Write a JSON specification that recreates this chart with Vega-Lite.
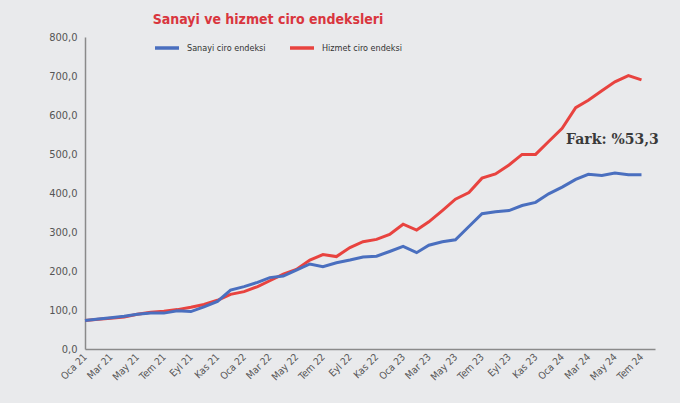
{
  "$schema": "https://vega.github.io/schema/vega-lite/v6.json",
  "width": 570,
  "height": 312,
  "autosize": {"type": "none"},
  "padding": {"left": 85, "top": 37, "right": 25, "bottom": 54},
  "background": "#e9eaec",
  "config": {"view": {"stroke": null}, "font": "DejaVu Sans Condensed, Roboto"},
  "title": {
    "text": "Sanayi ve hizmet ciro endeksleri",
    "anchor": "start",
    "dx": 104,
    "offset": 4,
    "font": "DejaVu Sans Condensed, Roboto",
    "fontSize": 14,
    "fontWeight": "bold",
    "color": "#d9363e"
  },
  "datasets": {
    "endeks": [
      {"tarih": "2021-01-01", "Sanayi ciro endeksi": 73, "Hizmet ciro endeksi": 73},
      {"tarih": "2021-02-01", "Sanayi ciro endeksi": 77, "Hizmet ciro endeksi": 76},
      {"tarih": "2021-03-01", "Sanayi ciro endeksi": 80, "Hizmet ciro endeksi": 79},
      {"tarih": "2021-04-01", "Sanayi ciro endeksi": 84, "Hizmet ciro endeksi": 82},
      {"tarih": "2021-05-01", "Sanayi ciro endeksi": 89, "Hizmet ciro endeksi": 89},
      {"tarih": "2021-06-01", "Sanayi ciro endeksi": 92, "Hizmet ciro endeksi": 94},
      {"tarih": "2021-07-01", "Sanayi ciro endeksi": 92, "Hizmet ciro endeksi": 97},
      {"tarih": "2021-08-01", "Sanayi ciro endeksi": 98, "Hizmet ciro endeksi": 101},
      {"tarih": "2021-09-01", "Sanayi ciro endeksi": 96, "Hizmet ciro endeksi": 107},
      {"tarih": "2021-10-01", "Sanayi ciro endeksi": 108, "Hizmet ciro endeksi": 114},
      {"tarih": "2021-11-01", "Sanayi ciro endeksi": 122, "Hizmet ciro endeksi": 125},
      {"tarih": "2021-12-01", "Sanayi ciro endeksi": 151, "Hizmet ciro endeksi": 140},
      {"tarih": "2022-01-01", "Sanayi ciro endeksi": 160, "Hizmet ciro endeksi": 147},
      {"tarih": "2022-02-01", "Sanayi ciro endeksi": 171, "Hizmet ciro endeksi": 160},
      {"tarih": "2022-03-01", "Sanayi ciro endeksi": 183, "Hizmet ciro endeksi": 175},
      {"tarih": "2022-04-01", "Sanayi ciro endeksi": 187, "Hizmet ciro endeksi": 192},
      {"tarih": "2022-05-01", "Sanayi ciro endeksi": 202, "Hizmet ciro endeksi": 204},
      {"tarih": "2022-06-01", "Sanayi ciro endeksi": 218, "Hizmet ciro endeksi": 228},
      {"tarih": "2022-07-01", "Sanayi ciro endeksi": 211, "Hizmet ciro endeksi": 242},
      {"tarih": "2022-08-01", "Sanayi ciro endeksi": 221, "Hizmet ciro endeksi": 237},
      {"tarih": "2022-09-01", "Sanayi ciro endeksi": 228, "Hizmet ciro endeksi": 260},
      {"tarih": "2022-10-01", "Sanayi ciro endeksi": 236, "Hizmet ciro endeksi": 275},
      {"tarih": "2022-11-01", "Sanayi ciro endeksi": 238, "Hizmet ciro endeksi": 281},
      {"tarih": "2022-12-01", "Sanayi ciro endeksi": 250, "Hizmet ciro endeksi": 294},
      {"tarih": "2023-01-01", "Sanayi ciro endeksi": 263, "Hizmet ciro endeksi": 320},
      {"tarih": "2023-02-01", "Sanayi ciro endeksi": 247, "Hizmet ciro endeksi": 305},
      {"tarih": "2023-03-01", "Sanayi ciro endeksi": 266, "Hizmet ciro endeksi": 326},
      {"tarih": "2023-04-01", "Sanayi ciro endeksi": 275, "Hizmet ciro endeksi": 355},
      {"tarih": "2023-05-01", "Sanayi ciro endeksi": 280, "Hizmet ciro endeksi": 384},
      {"tarih": "2023-06-01", "Sanayi ciro endeksi": 314, "Hizmet ciro endeksi": 401},
      {"tarih": "2023-07-01", "Sanayi ciro endeksi": 347, "Hizmet ciro endeksi": 438},
      {"tarih": "2023-08-01", "Sanayi ciro endeksi": 352, "Hizmet ciro endeksi": 449},
      {"tarih": "2023-09-01", "Sanayi ciro endeksi": 355, "Hizmet ciro endeksi": 472},
      {"tarih": "2023-10-01", "Sanayi ciro endeksi": 368, "Hizmet ciro endeksi": 499},
      {"tarih": "2023-11-01", "Sanayi ciro endeksi": 376, "Hizmet ciro endeksi": 499},
      {"tarih": "2023-12-01", "Sanayi ciro endeksi": 398, "Hizmet ciro endeksi": 532},
      {"tarih": "2024-01-01", "Sanayi ciro endeksi": 415, "Hizmet ciro endeksi": 566},
      {"tarih": "2024-02-01", "Sanayi ciro endeksi": 435, "Hizmet ciro endeksi": 619},
      {"tarih": "2024-03-01", "Sanayi ciro endeksi": 448, "Hizmet ciro endeksi": 638},
      {"tarih": "2024-04-01", "Sanayi ciro endeksi": 445, "Hizmet ciro endeksi": 662},
      {"tarih": "2024-05-01", "Sanayi ciro endeksi": 451, "Hizmet ciro endeksi": 685},
      {"tarih": "2024-06-01", "Sanayi ciro endeksi": 447, "Hizmet ciro endeksi": 701},
      {"tarih": "2024-07-01", "Sanayi ciro endeksi": 447, "Hizmet ciro endeksi": 690}
    ],
    "not": [
      {"tarih": "2024-01-10", "deger": 536, "metin": "Fark: %53,3"}
    ]
  },
  "encoding": {
    "x": {
      "field": "tarih",
      "type": "temporal",
      "scale": {
        "type": "utc",
        "domain": [
          {"year": 2021, "month": 1, "date": 1, "utc": true},
          {"year": 2024, "month": 8, "date": 1, "utc": true}
        ]
      },
      "axis": {
        "title": null,
        "tickCount": {"interval": "month", "step": 2},
        "labelExpr": "['Oca','Şub','Mar','Nis','May','Haz','Tem','Ağu','Eyl','Eki','Kas','Ara'][utcmonth(datum.value)] + ' ' + utcFormat(datum.value, '%y')",
        "labelAngle": -45,
        "labelAlign": "right",
        "labelBaseline": "middle",
        "labelPadding": 6,
        "labelDx": 4,
        "labelDy": 6,
        "labelFontSize": 10,
        "labelColor": "#555555",
        "labelFont": "DejaVu Sans Condensed, Roboto",
        "ticks": false,
        "grid": false,
        "domainColor": "#8a8a8a",
        "domainWidth": 1.5,
        "labelOverlap": false
      }
    },
    "y": {
      "field": "deger",
      "type": "quantitative",
      "scale": {"domain": [0, 800], "nice": false},
      "axis": {
        "title": null,
        "values": [0, 100, 200, 300, 400, 500, 600, 700, 800],
        "labelExpr": "replace(format(datum.value, '.1f'), '.', ',')",
        "labelFontSize": 11,
        "labelColor": "#555555",
        "labelFont": "DejaVu Sans Condensed, Roboto",
        "labelPadding": 8,
        "labelOverlap": false,
        "ticks": false,
        "grid": false,
        "domainColor": "#8a8a8a",
        "domainWidth": 1.5
      }
    }
  },
  "layer": [
    {
      "data": {"name": "endeks"},
      "transform": [
        {"fold": ["Hizmet ciro endeksi", "Sanayi ciro endeksi"], "as": ["seri", "deger"]}
      ],
      "mark": {"type": "line", "strokeWidth": 3},
      "encoding": {
        "color": {
          "field": "seri",
          "type": "nominal",
          "scale": {
            "domain": ["Sanayi ciro endeksi", "Hizmet ciro endeksi"],
            "range": ["#4a6fbf", "#e8433f"]
          },
          "legend": {
            "title": null,
            "orient": "none",
            "legendX": 68,
            "legendY": -3,
            "direction": "horizontal",
            "symbolType": "stroke",
            "symbolSize": 576,
            "symbolStrokeWidth": 3.5,
            "labelFontSize": 9,
            "labelColor": "#333333",
            "labelFont": "DejaVu Sans Condensed, Roboto",
            "labelOffset": 6,
            "columnPadding": 17
          }
        }
      }
    },
    {
      "data": {"name": "not"},
      "mark": {
        "type": "text",
        "align": "left",
        "baseline": "middle",
        "font": "DejaVu Serif",
        "fontWeight": "bold",
        "fontSize": 14,
        "color": "#3a3a3a"
      },
      "encoding": {
        "text": {"field": "metin"}
      }
    }
  ]
}
